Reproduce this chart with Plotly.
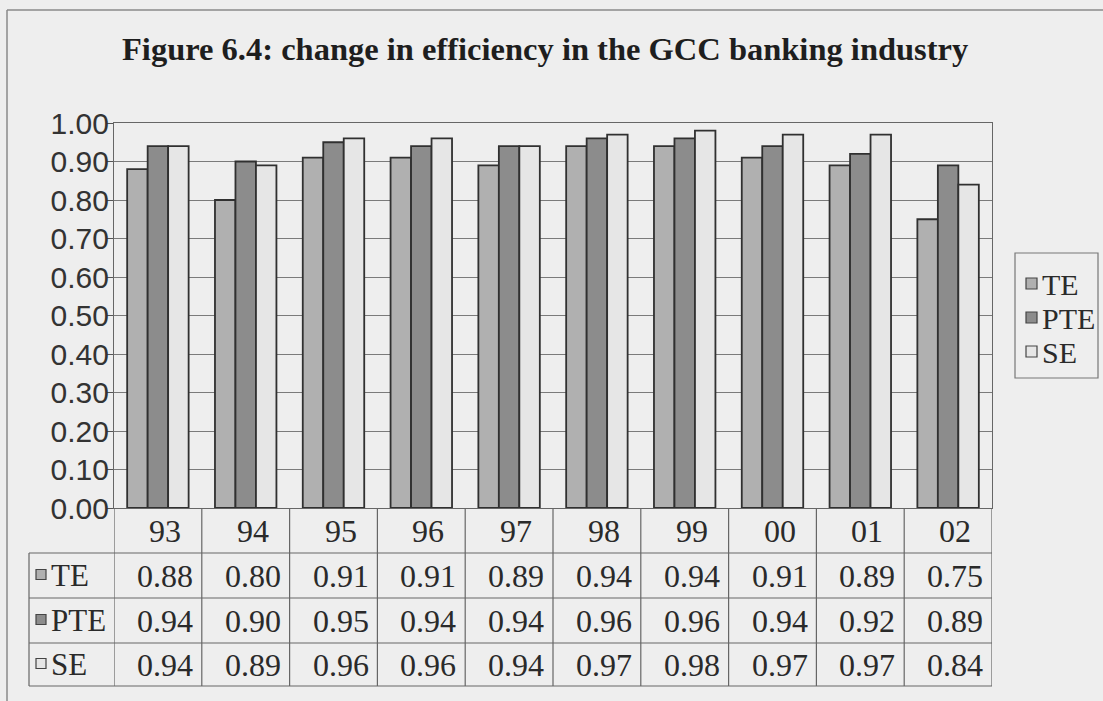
import plotly.graph_objects as go

# Efficiency scores of the GCC banking industry by year
years = ["93", "94", "95", "96", "97", "98", "99", "00", "01", "02"]
te = [0.88, 0.80, 0.91, 0.91, 0.89, 0.94, 0.94, 0.91, 0.89, 0.75]
pte = [0.94, 0.90, 0.95, 0.94, 0.94, 0.96, 0.96, 0.94, 0.92, 0.89]
se = [0.94, 0.89, 0.96, 0.96, 0.94, 0.97, 0.98, 0.97, 0.97, 0.84]

series_names = ["TE", "PTE", "SE"]
series_values = [te, pte, se]
series_colors = ["#b0b0b0", "#8c8c8c", "#e6e6e6"]

title_text = "Figure 6.4: change in efficiency in the GCC banking industry"

W, H = 1103, 701
L, R, T, B = 114, 992, 123, 508  # plot area in pixels

BG = "#eeeeee"
INK = "#2a2a2a"
SERIF = "Liberation Serif, Times New Roman, serif"
SANS = "Liberation Sans, Arial, sans-serif"


def px_x(p):
    return (p - L) / (R - L)


def px_y(p):
    return (B - p) / (B - T)


fig = go.Figure()
for name, vals, col in zip(series_names, series_values, series_colors):
    fig.add_trace(go.Bar(
        x=years, y=vals, name=name,
        marker=dict(color=col, line=dict(color="#303030", width=1.8)),
        showlegend=False,
    ))

shapes = []
annotations = []

# outer chart frame: left and top edges
frame = dict(color="#8a8a8a", width=1.5)
shapes.append(dict(type="line", xref="paper", yref="paper",
                   x0=px_x(7), x1=px_x(7), y0=px_y(10), y1=px_y(H), line=frame, layer="below"))
shapes.append(dict(type="line", xref="paper", yref="paper",
                   x0=px_x(7), x1=px_x(W), y0=px_y(10), y1=px_y(10), line=frame, layer="below"))

# title
annotations.append(dict(text="<b>" + title_text + "</b>", xref="paper", yref="paper",
                        x=px_x(545), y=px_y(49), xanchor="center", yanchor="middle",
                        showarrow=False, font=dict(family=SERIF, size=32.5, color="#1e1e1e")))

# data table below the plot
row_edges = [B, 553, 598, 643, 686]
line_style = dict(color="#666666", width=1.2)
for yy in row_edges[1:]:
    shapes.append(dict(type="line", xref="paper", yref="paper",
                       x0=px_x(29), x1=px_x(R), y0=px_y(yy), y1=px_y(yy), line=line_style))
shapes.append(dict(type="line", xref="paper", yref="paper",
                   x0=px_x(29), x1=px_x(29), y0=px_y(553), y1=px_y(686), line=line_style))
for i in range(len(years) + 1):
    shapes.append(dict(type="line", xref="x", yref="paper",
                       x0=i - 0.5, x1=i - 0.5, y0=px_y(B), y1=px_y(686), line=line_style))

row_centers = [(row_edges[j] + row_edges[j + 1]) / 2 for j in range(4)]

for i, yr in enumerate(years):
    annotations.append(dict(text=yr, xref="x", yref="paper", x=i, y=px_y(row_centers[0]),
                            xshift=7, xanchor="center", yanchor="middle", showarrow=False,
                            font=dict(family=SERIF, size=32, color=INK)))

for r, (name, vals, col) in enumerate(zip(series_names, series_values, series_colors)):
    yc = row_centers[r + 1]
    for i, v in enumerate(vals):
        annotations.append(dict(text=f"{v:.2f}", xref="x", yref="paper", x=i, y=px_y(yc),
                                xshift=7, xanchor="center", yanchor="middle", showarrow=False,
                                font=dict(family=SERIF, size=32, color=INK)))
    # row key
    shapes.append(dict(type="rect", xref="paper", yref="paper",
                       x0=px_x(36), x1=px_x(46), y0=px_y(yc - 6), y1=px_y(yc + 4),
                       fillcolor=col, line=dict(color="#444444", width=1.2)))
    annotations.append(dict(text=name, xref="paper", yref="paper", x=px_x(49), y=px_y(yc),
                            xanchor="left", yanchor="middle", showarrow=False,
                            font=dict(family=SERIF, size=31, color=INK)))

# legend box
shapes.append(dict(type="rect", xref="paper", yref="paper",
                   x0=px_x(1015), x1=px_x(1098), y0=px_y(378), y1=px_y(253),
                   line=dict(color="#777777", width=1.2)))
for name, col, yc in zip(series_names, series_colors, [284, 318, 352]):
    shapes.append(dict(type="rect", xref="paper", yref="paper",
                       x0=px_x(1026), x1=px_x(1037), y0=px_y(yc - 6), y1=px_y(yc + 5),
                       fillcolor=col, line=dict(color="#444444", width=1.2)))
    annotations.append(dict(text=name, xref="paper", yref="paper", x=px_x(1040), y=px_y(yc),
                            xanchor="left", yanchor="middle", showarrow=False,
                            font=dict(family=SERIF, size=30, color=INK)))

fig.update_layout(
    width=W, height=H,
    margin=dict(l=L, r=W - R, t=T, b=H - B, pad=0),
    paper_bgcolor=BG, plot_bgcolor=BG,
    barmode="group", bargap=0.3, bargroupgap=0,
    shapes=shapes, annotations=annotations,
    xaxis=dict(type="category", range=[-0.5, len(years) - 0.5], autorange=False,
               showticklabels=False, ticks="", showgrid=False,
               showline=True, linecolor="#666666", linewidth=1.2, mirror=True),
    yaxis=dict(range=[0, 1], dtick=0.1, tickformat=".2f", ticks="outside", ticklen=6,
               tickcolor="#555555", showgrid=True, gridcolor="#7a7a7a", gridwidth=1,
               showline=True, linecolor="#666666", linewidth=1.2, mirror=True,
               zeroline=False, ticklabelstandoff=-8,
               tickfont=dict(family=SANS, size=30, color="#333333")),
)

fig.write_html("out.html")
